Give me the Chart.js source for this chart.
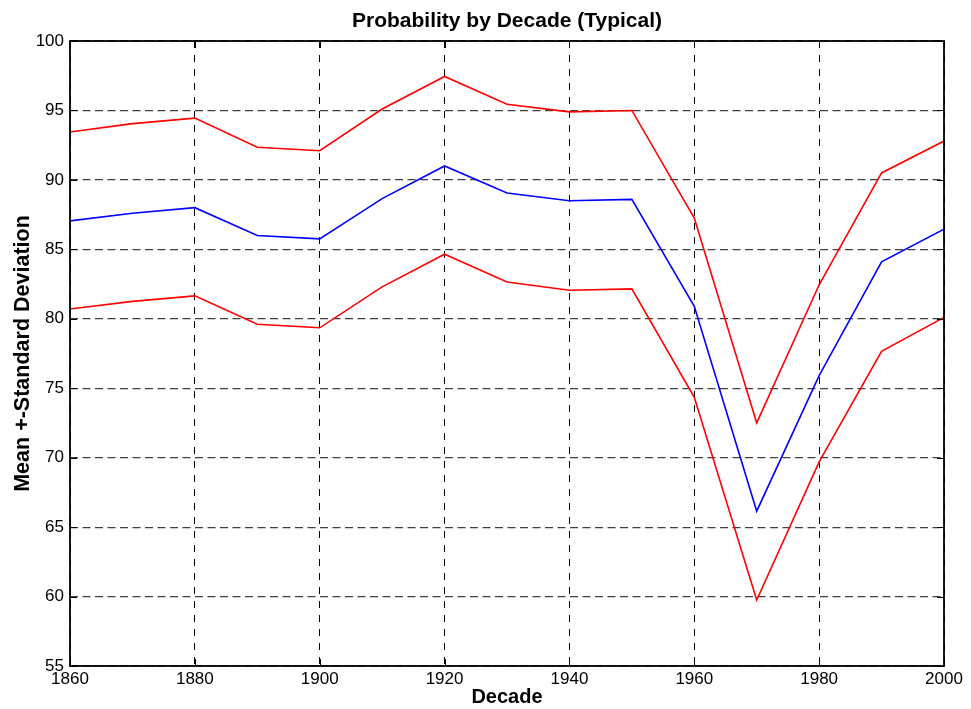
<!DOCTYPE html>
<html>
<head>
<meta charset="utf-8">
<title>Probability by Decade</title>
<script src="https://cdn.jsdelivr.net/npm/chart.js@4/dist/chart.umd.min.js"></script>
<style>
  html, body { margin: 0; padding: 0; background: #fff; }
  #wrap { width: 971px; height: 709px; }
</style>
</head>
<body>
<div id="wrap"><canvas id="canvas_decade"></canvas></div>
<script>
const decades = [1860, 1870, 1880, 1890, 1900, 1910, 1920, 1930, 1940, 1950, 1960, 1970, 1980, 1990, 2000];
const meanValues = [87.05, 87.6, 88.0, 86.0, 85.75, 88.65, 91.0, 89.05, 88.5, 88.6, 80.9, 66.15, 75.9, 84.1, 86.45];
const upperValues = [93.45, 94.05, 94.45, 92.35, 92.1, 95.1, 97.45, 95.45, 94.9, 95.0, 87.25, 72.5, 82.45, 90.5, 92.8];
const lowerValues = [80.7, 81.25, 81.65, 79.6, 79.35, 82.3, 84.65, 82.65, 82.05, 82.15, 74.35, 59.75, 69.7, 77.65, 80.1];

const chartTitle = "Probability by Decade (Typical)";
const FONT = "'Liberation Sans', Arial, Helvetica, sans-serif";

function toPoints(values) {
  return values.map((v, i) => ({ x: decades[i], y: v }));
}

// black box round the plot, short inward ticks, title centred over the plot
const framePlugin = {
  id: "frame",
  afterDatasetsDraw(chart) {
    const { ctx, chartArea: a, scales } = chart;
    ctx.save();
    ctx.strokeStyle = "#000";
    ctx.lineWidth = 1;
    ctx.beginPath();
    const len = 7;
    scales.y.ticks.forEach((t) => {
      const y = Math.round(scales.y.getPixelForValue(t.value)) + 0.5;
      ctx.moveTo(a.left, y);
      ctx.lineTo(a.left + len, y);
      ctx.moveTo(a.right, y);
      ctx.lineTo(a.right - len, y);
    });
    scales.x.ticks.forEach((t) => {
      const x = Math.round(scales.x.getPixelForValue(t.value)) + 0.5;
      ctx.moveTo(x, a.bottom);
      ctx.lineTo(x, a.bottom - len);
      ctx.moveTo(x, a.top);
      ctx.lineTo(x, a.top + len);
    });
    ctx.stroke();
    ctx.lineWidth = 1.8;
    ctx.strokeRect(a.left, a.top, a.right - a.left, a.bottom - a.top);

    ctx.fillStyle = "#000";
    ctx.font = "bold 21px " + FONT;
    ctx.textAlign = "center";
    ctx.textBaseline = "alphabetic";
    ctx.fillText(chartTitle, (a.left + a.right) / 2, 27);
    ctx.restore();
  },
};

function lineSet(label, values, color) {
  return {
    label: label,
    data: toPoints(values),
    borderColor: color,
    backgroundColor: color,
    borderWidth: 1.6,
    pointRadius: 0,
    tension: 0,
    fill: false,
  };
}

const config = {
  type: "line",
  data: {
    datasets: [
      lineSet("Mean + SD", upperValues, "#ff0000"),
      lineSet("Mean", meanValues, "#0000ff"),
      lineSet("Mean - SD", lowerValues, "#ff0000"),
    ],
  },
  plugins: [framePlugin],
  options: {
    responsive: true,
    maintainAspectRatio: false,
    animation: false,
    layout: {
      padding: { left: 0, right: 27, top: 41, bottom: 0 },
    },
    scales: {
      x: {
        type: "linear",
        min: 1860,
        max: 2000,
        afterFit(scale) {
          scale.height = 43;
        },
        grid: {
          color: "#000",
          lineWidth: 1,
          drawTicks: false,
        },
        border: { display: false, dash: [7, 7] },
        ticks: {
          stepSize: 20,
          padding: 3,
          color: "#000",
          font: { family: FONT, size: 17 },
          maxRotation: 0,
          callback: (v) => String(v),
        },
        title: {
          display: true,
          text: "Decade",
          color: "#000",
          font: { family: FONT, size: 20, weight: "bold" },
          padding: { top: 0, bottom: 0 },
        },
      },
      y: {
        min: 55,
        max: 100,
        afterFit(scale) {
          scale.width = 70;
        },
        grid: {
          color: "#404040",
          lineWidth: 1.2,
          drawTicks: false,
        },
        border: { display: false, dash: [8, 4.5] },
        ticks: {
          stepSize: 5,
          padding: 6,
          color: "#000",
          font: { family: FONT, size: 17 },
        },
        title: {
          display: true,
          text: "Mean +-Standard Deviation",
          color: "#000",
          font: { family: FONT, size: 21.5, weight: "bold" },
          padding: { top: 10, bottom: 0 },
        },
      },
    },
    plugins: {
      legend: { display: false },
      tooltip: { enabled: false },
      title: { display: false },
    },
  },
};

window.chart = new Chart(document.getElementById("canvas_decade"), config);
</script>
</body>
</html>
